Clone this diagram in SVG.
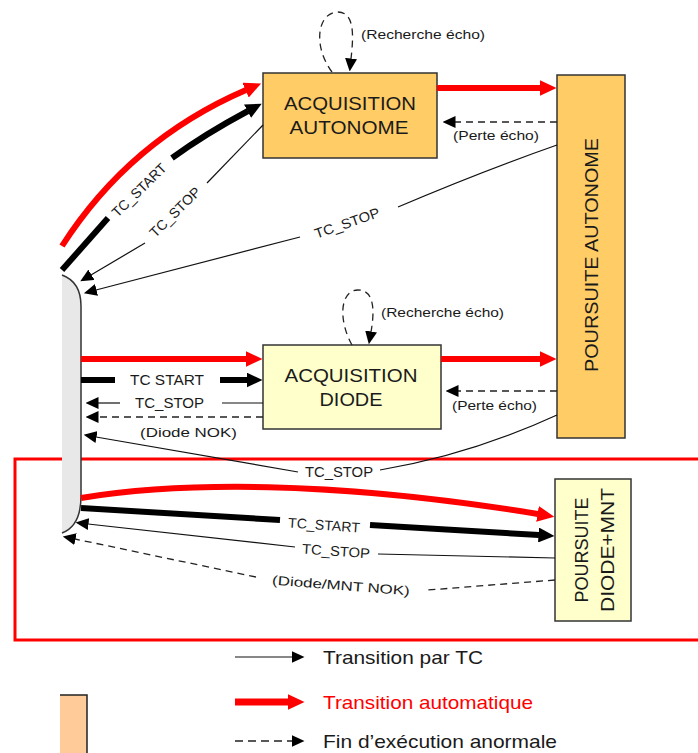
<svg xmlns="http://www.w3.org/2000/svg" width="698" height="753" viewBox="0 0 698 753">
<style>
  .box{stroke:#333;stroke-width:1.5}
  .orange{fill:#FFCC66}
  .pale{fill:#FFFFCC}
  .btxt{font-family:"Liberation Sans",Arial,sans-serif;font-size:19px;fill:#1a1a1a;text-anchor:middle}
  .lbl{font-family:"Liberation Sans",Arial,sans-serif;font-size:14px;fill:#1a1a1a;text-anchor:middle}
  .plbl{font-family:"Liberation Sans",Arial,sans-serif;font-size:13px;fill:#1a1a1a;text-anchor:middle}
  .leg{font-family:"Liberation Sans",Arial,sans-serif;font-size:19px;fill:#1a1a1a}
  .thin{fill:none;stroke:#111;stroke-width:1.2}
  .dash{fill:none;stroke:#222;stroke-width:1.3;stroke-dasharray:7 5}
  .thick{fill:none;stroke:#000;stroke-width:6}
  .red{fill:none;stroke:#FF0000;stroke-width:6}
</style>
<defs>
  <marker id="hThin" viewBox="0 0 13 12" refX="0.5" refY="6" markerWidth="13" markerHeight="12" markerUnits="userSpaceOnUse" orient="auto"><path d="M0,0 L13,6 L0,12 z" fill="#000"/></marker>
  <marker id="hThick" viewBox="0 0 16 15" refX="0.5" refY="7.5" markerWidth="16" markerHeight="15" markerUnits="userSpaceOnUse" orient="auto"><path d="M0,0 L16,7.5 L0,15 z" fill="#000"/></marker>
  <marker id="hRed" viewBox="0 0 17 16" refX="0.5" refY="8" markerWidth="17" markerHeight="16" markerUnits="userSpaceOnUse" orient="auto"><path d="M0,0 L17,8 L0,16 z" fill="#FF0000"/></marker>
</defs>
<rect width="698" height="753" fill="#fff"/>

<!-- red highlight frame -->
<rect x="15" y="459" width="690" height="181" fill="none" stroke="#FF0000" stroke-width="3"/>

<!-- left grey bar -->
<g id="left-bar">
  <path d="M62,275 Q81,282 81,306 L81,496 Q81,526 62,533 Z" fill="#E8E8E8"/>
  <path d="M62,275 Q81,282 81,306 L81,496 Q81,526 62,533" fill="none" stroke="#333" stroke-width="1.5"/>
</g>

<g id="acq-autonome">
  <rect class="box orange" x="263" y="73" width="174" height="85"/>
  <text class="btxt" x="350" y="110" textLength="132" lengthAdjust="spacingAndGlyphs">ACQUISITION</text>
  <text class="btxt" x="349" y="134" textLength="119" lengthAdjust="spacingAndGlyphs">AUTONOME</text>
</g>

<g id="acq-diode">
  <rect class="box pale" x="263" y="345" width="178" height="84"/>
  <text class="btxt" x="351" y="382" textLength="133" lengthAdjust="spacingAndGlyphs">ACQUISITION</text>
  <text class="btxt" x="351" y="406" textLength="63" lengthAdjust="spacingAndGlyphs">DIODE</text>
</g>

<g id="poursuite-autonome">
  <rect class="box orange" x="557" y="75" width="68" height="363"/>
  <text class="btxt" transform="translate(598,255) rotate(-90)" x="0" y="0" textLength="234" lengthAdjust="spacingAndGlyphs">POURSUITE AUTONOME</text>
</g>

<g id="poursuite-diode-mnt">
  <rect class="box pale" x="555" y="479" width="76" height="142"/>
  <text class="btxt" transform="translate(588,550) rotate(-90)" x="0" y="0" textLength="105" lengthAdjust="spacingAndGlyphs">POURSUITE</text>
  <text class="btxt" transform="translate(614,550) rotate(-90)" x="0" y="0" textLength="124" lengthAdjust="spacingAndGlyphs">DIODE+MNT</text>
</g>

<g id="connectors">
  <!-- top section -->
  <path class="red" d="M62,246 Q130,140 246,90" marker-end="url(#hRed)"/>
  <path class="thick" d="M62,270 L108,218"/>
  <path class="thick" d="M172,158 Q205,134 248,111" marker-end="url(#hThick)"/>
  <text class="lbl" transform="translate(139,190) rotate(-44.5)" x="0" y="5" textLength="70" lengthAdjust="spacingAndGlyphs">TC_START</text>
  <path class="thin" d="M263,125 L207,183"/>
  <path class="thin" d="M145,243 L91,275" marker-end="url(#hThin)"/>
  <text class="lbl" transform="translate(175,212) rotate(-44.5)" x="0" y="5" textLength="65" lengthAdjust="spacingAndGlyphs">TC_STOP</text>
  <path class="thin" d="M557,145 Q480,172 398,207"/>
  <path class="thin" d="M300,237 L96,290" marker-end="url(#hThin)"/>
  <text class="lbl" transform="translate(347,223) rotate(-19)" x="0" y="5" textLength="68" lengthAdjust="spacingAndGlyphs">TC_STOP</text>
  <path class="dash" d="M332,72 C312,45 318,12 338,12 C356,12 353,40 351,59" marker-end="url(#hThin)"/>
  <text class="plbl" x="423" y="39" textLength="124" lengthAdjust="spacingAndGlyphs">(Recherche écho)</text>
  <path class="red" d="M437,88 L540,88" marker-end="url(#hRed)"/>
  <path class="dash" d="M557,122 L455,122" marker-end="url(#hThin)"/>
  <text class="plbl" x="496" y="140" textLength="86" lengthAdjust="spacingAndGlyphs">(Perte écho)</text>

  <!-- middle section -->
  <path class="red" d="M81,359 L246,359" marker-end="url(#hRed)"/>
  <path class="thick" d="M81,380 L115,380"/>
  <path class="thick" d="M220,380 L247,380" marker-end="url(#hThick)"/>
  <text class="lbl" x="167" y="385" textLength="74" lengthAdjust="spacingAndGlyphs">TC  START</text>
  <path class="thin" d="M263,403 L222,403"/>
  <path class="thin" d="M120,403 L98,403" marker-end="url(#hThin)"/>
  <text class="lbl" x="169.5" y="408" textLength="69" lengthAdjust="spacingAndGlyphs">TC_STOP</text>
  <path class="dash" d="M263,417 L98,417" marker-end="url(#hThin)"/>
  <text class="plbl" x="188.5" y="437" textLength="97" lengthAdjust="spacingAndGlyphs">(Diode NOK)</text>
  <path class="dash" d="M352,345 C338,320 340,290 358,290 C376,290 374,315 371,332" marker-end="url(#hThin)"/>
  <text class="plbl" x="442.5" y="317" textLength="123" lengthAdjust="spacingAndGlyphs">(Recherche écho)</text>
  <path class="red" d="M441,359 L540,359" marker-end="url(#hRed)"/>
  <path class="dash" d="M557,391 L458,391" marker-end="url(#hThin)"/>
  <text class="plbl" x="494.5" y="410" textLength="85" lengthAdjust="spacingAndGlyphs">(Perte écho)</text>
  <path class="thin" d="M557,415 Q470,455 380,470"/>
  <path class="thin" d="M298,472 L96,437" marker-end="url(#hThin)"/>
  <text class="lbl" x="339" y="477" textLength="68" lengthAdjust="spacingAndGlyphs">TC_STOP</text>

  <!-- bottom section -->
  <path class="red" d="M81,498 C180,482 330,480 538,514" marker-end="url(#hRed)"/>
  <path class="thick" d="M81,508 L280,520"/>
  <path class="thick" d="M370,525 L539,535" marker-end="url(#hThick)"/>
  <text class="lbl" transform="translate(324,525) rotate(4)" x="0" y="5" textLength="72" lengthAdjust="spacingAndGlyphs">TC_START</text>
  <path class="thin" d="M555,558 L378,554"/>
  <path class="thin" d="M295,547 L88,524" marker-end="url(#hThin)"/>
  <text class="lbl" transform="translate(336,551) rotate(4)" x="0" y="5" textLength="68" lengthAdjust="spacingAndGlyphs">TC_STOP</text>
  <path class="dash" d="M555,580 L428,590"/>
  <path class="dash" d="M256,577 L75,539" marker-end="url(#hThin)"/>
  <text class="plbl" transform="translate(341,585) rotate(4.5)" x="0" y="5" textLength="138" lengthAdjust="spacingAndGlyphs">(Diode/MNT NOK)</text>
</g>

<g id="legend">
  <rect x="60" y="695" width="27" height="70" fill="#FFCC99"/>
  <path d="M60,695 L87,695 L87,753" fill="none" stroke="#222" stroke-width="1.5"/>
  <path class="thin" d="M235,657 L292,657" marker-end="url(#hThin)"/>
  <text class="leg" x="323" y="664" textLength="160" lengthAdjust="spacingAndGlyphs">Transition par TC</text>
  <path fill="none" stroke="#FF0000" stroke-width="7" d="M235,702 L288,702" marker-end="url(#hRed)"/>
  <text class="leg" x="323" y="709" fill="#FF0000" style="fill:#FF0000" textLength="210" lengthAdjust="spacingAndGlyphs">Transition automatique</text>
  <path fill="none" stroke="#222" stroke-width="1.3" stroke-dasharray="8 5" d="M235,741 L292,741" marker-end="url(#hThin)"/>
  <text class="leg" x="323" y="748" textLength="234" lengthAdjust="spacingAndGlyphs">Fin d’exécution anormale</text>
</g>
</svg>
